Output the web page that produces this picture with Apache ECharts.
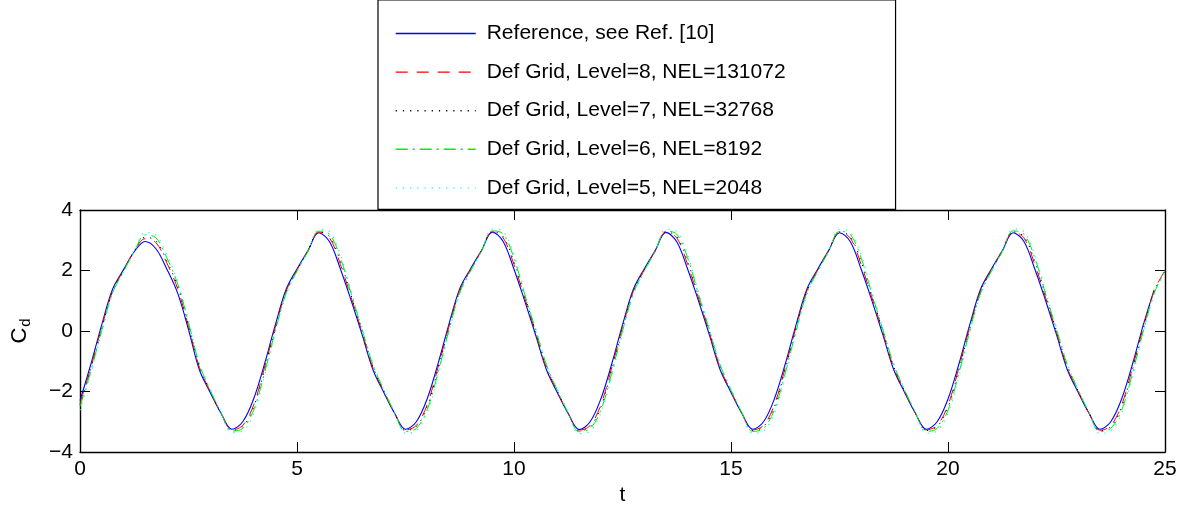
<!DOCTYPE html>
<html>
<head>
<meta charset="utf-8">
<script src="https://cdn.jsdelivr.net/npm/echarts@6/dist/echarts.min.js"></script>
<style>
  html, body { margin: 0; padding: 0; background: #fff; }
  #chart { width: 1190px; height: 509px; }
</style>
</head>
<body>
<div id="chart"></div>
<script>
// Drag coefficient history C_d(t), sampled every 0.25 time units from t = 0
const sampleStep = 0.25;

const seriesNames = [
  'Reference, see Ref. [10]',
  'Def Grid, Level=8, NEL=131072',
  'Def Grid, Level=7, NEL=32768',
  'Def Grid, Level=6, NEL=8192',
  'Def Grid, Level=5, NEL=2048'
];

const refCd = [
  -2.30, -1.10, 0.20, 1.38, 2.02, 2.62, 2.96, 2.72, 2.05, 1.25, 0.05, -1.28, -2.03, -2.72, -3.25,
  -3.00, -2.25, -1.10, 0.20, 1.38, 2.05, 2.65, 3.25, 2.95, 2.05, 1.00, -0.12, -1.28, -2.03, -2.72, -3.25,
  -3.00, -2.24, -1.08, 0.22, 1.40, 2.06, 2.66, 3.27, 2.96, 2.04, 0.98, -0.14, -1.29, -2.04, -2.73, -3.26,
  -3.01, -2.25, -1.10, 0.20, 1.38, 2.05, 2.65, 3.26, 2.95, 2.05, 1.00, -0.12, -1.28, -2.03, -2.72, -3.25,
  -3.00, -2.24, -1.09, 0.21, 1.39, 2.05, 2.66, 3.25, 2.95, 2.04, 0.99, -0.13, -1.28, -2.03, -2.72, -3.25,
  -3.00, -2.25, -1.10, 0.20, 1.38, 2.05, 2.65, 3.25, 2.96, 2.05, 1.00, -0.12, -1.28, -2.03, -2.72, -3.25,
  -3.00, -2.25, -1.10, 0.20, 1.36
];

const level8Cd = [
  -2.40, -1.20, 0.12, 1.32, 2.00, 2.64, 3.05, 2.92, 2.25, 1.40, 0.15, -1.20, -2.00, -2.72, -3.27,
  -3.12, -2.45, -1.22, 0.12, 1.32, 2.02, 2.64, 3.27, 3.08, 2.20, 1.10, -0.04, -1.22, -2.00, -2.72, -3.27,
  -3.12, -2.43, -1.20, 0.14, 1.34, 2.03, 2.65, 3.28, 3.08, 2.19, 1.08, -0.06, -1.23, -2.01, -2.73, -3.28,
  -3.13, -2.45, -1.22, 0.12, 1.32, 2.02, 2.64, 3.27, 3.08, 2.20, 1.10, -0.04, -1.22, -2.00, -2.72, -3.27,
  -3.12, -2.44, -1.21, 0.13, 1.33, 2.02, 2.65, 3.27, 3.07, 2.19, 1.09, -0.05, -1.22, -2.00, -2.72, -3.27,
  -3.12, -2.45, -1.22, 0.12, 1.32, 2.02, 2.64, 3.27, 3.08, 2.20, 1.10, -0.04, -1.22, -2.00, -2.72, -3.28,
  -3.13, -2.45, -1.22, 0.12, 1.32, 2.00
];

const level7Cd = [
  -2.45, -1.25, 0.08, 1.30, 1.98, 2.64, 3.10, 2.98, 2.32, 1.47, 0.20, -1.16, -1.98, -2.72, -3.29,
  -3.16, -2.52, -1.28, 0.08, 1.30, 2.00, 2.64, 3.28, 3.12, 2.30, 1.16, 0.00, -1.18, -1.98, -2.72, -3.29,
  -3.16, -2.50, -1.26, 0.10, 1.32, 2.01, 2.65, 3.29, 3.12, 2.29, 1.14, -0.02, -1.19, -1.99, -2.73, -3.30,
  -3.17, -2.52, -1.28, 0.08, 1.30, 2.00, 2.64, 3.28, 3.12, 2.30, 1.16, 0.00, -1.18, -1.98, -2.72, -3.29,
  -3.16, -2.51, -1.27, 0.09, 1.31, 2.00, 2.65, 3.28, 3.11, 2.29, 1.15, -0.01, -1.18, -1.98, -2.72, -3.29,
  -3.16, -2.52, -1.28, 0.08, 1.30, 2.00, 2.64, 3.28, 3.12, 2.30, 1.16, 0.00, -1.18, -1.98, -2.72, -3.30,
  -3.16, -2.52, -1.28, 0.08, 1.30, 1.99
];

const level6Cd = [
  -2.50, -1.32, 0.02, 1.26, 1.96, 2.62, 3.18, 3.08, 2.42, 1.56, 0.28, -1.10, -1.95, -2.70, -3.31,
  -3.22, -2.62, -1.40, 0.00, 1.25, 1.98, 2.62, 3.30, 3.20, 2.42, 1.22, 0.05, -1.12, -1.95, -2.70, -3.32,
  -3.22, -2.60, -1.38, 0.02, 1.27, 1.99, 2.63, 3.31, 3.21, 2.41, 1.20, 0.03, -1.13, -1.96, -2.71, -3.33,
  -3.23, -2.62, -1.40, 0.00, 1.25, 1.98, 2.62, 3.30, 3.20, 2.42, 1.22, 0.05, -1.12, -1.95, -2.70, -3.32,
  -3.22, -2.61, -1.39, 0.01, 1.26, 1.98, 2.63, 3.30, 3.19, 2.41, 1.21, 0.04, -1.12, -1.95, -2.70, -3.32,
  -3.22, -2.62, -1.40, 0.00, 1.25, 1.98, 2.62, 3.31, 3.20, 2.42, 1.22, 0.05, -1.12, -1.95, -2.70, -3.33,
  -3.22, -2.62, -1.40, 0.00, 1.25, 2.00
];

const level5Cd = [
  -2.62, -1.40, -0.05, 1.22, 1.95, 2.62, 3.26, 3.17, 2.52, 1.64, 0.35, -1.05, -1.92, -2.68, -3.36,
  -3.30, -2.72, -1.50, -0.06, 1.20, 1.96, 2.62, 3.36, 3.28, 2.52, 1.30, 0.10, -1.08, -1.93, -2.68, -3.38,
  -3.30, -2.70, -1.48, -0.04, 1.22, 1.97, 2.63, 3.37, 3.29, 2.51, 1.28, 0.08, -1.09, -1.94, -2.69, -3.39,
  -3.31, -2.72, -1.50, -0.06, 1.20, 1.96, 2.62, 3.36, 3.28, 2.52, 1.30, 0.10, -1.08, -1.93, -2.68, -3.38,
  -3.30, -2.71, -1.49, -0.05, 1.21, 1.96, 2.63, 3.36, 3.27, 2.51, 1.29, 0.09, -1.08, -1.93, -2.68, -3.38,
  -3.30, -2.72, -1.50, -0.06, 1.20, 1.96, 2.62, 3.37, 3.28, 2.52, 1.30, 0.10, -1.08, -1.93, -2.68, -3.39,
  -3.30, -2.72, -1.50, -0.06, 1.20, 1.96
];

const xTicks = { min: 0, max: 25, interval: 5 };
const yTicks = { min: -4, max: 4, interval: 2 };

const FONT = '"Liberation Sans", Arial, Helvetica, sans-serif';
const FONT_SIZE = 21;

function toPairs(values) {
  return values.map((v, i) => [i * sampleStep, v]);
}

function minusSign(v) {
  return String(v).replace('-', '\u2212');
}

const lineDefs = [
  { values: refCd,    color: '#0000ff', type: 'solid',        width: 1.1 },
  { values: level8Cd, color: '#ff0000', type: [12, 9],        width: 1 },
  { values: level7Cd, color: '#000000', type: [1.2, 6],       width: 1 },
  { values: level6Cd, color: '#00ee00', type: [12, 5, 2, 5],  width: 1 },
  { values: level5Cd, color: '#00ffff', type: [1.2, 6],       width: 1.2 }
];

const axisLineStyle = { color: '#000', width: 1.4 };
const tickStyle = { show: true, inside: true, length: 10, lineStyle: { color: '#000', width: 1 } };

const chart = echarts.init(document.getElementById('chart'), null, { renderer: 'canvas' });

chart.setOption({
  animation: false,
  backgroundColor: '#fff',
  textStyle: { fontFamily: FONT },
  grid: { left: 80, right: 25, top: 210, bottom: 57, containLabel: false },
  legend: {
    orient: 'vertical',
    left: 378,
    top: 0,
    padding: [23, 110, 11, 17],
    itemWidth: 80,
    itemHeight: 20,
    itemGap: 17.6,
    backgroundColor: '#fff',
    borderColor: '#000',
    borderWidth: 1.2,
    borderRadius: 0,
    z: 10,
    // line samples only, no marker in the middle
    itemStyle: { opacity: 0 },
    lineStyle: { width: 1.4 },
    textStyle: { fontFamily: FONT, fontSize: FONT_SIZE, color: '#000', padding: [0, 0, 0, 6] },
    data: seriesNames
  },
  xAxis: [
    {
      type: 'value', position: 'bottom',
      min: xTicks.min, max: xTicks.max, interval: xTicks.interval,
      name: 't', nameLocation: 'middle', nameGap: 33,
      nameTextStyle: { fontFamily: FONT, fontSize: FONT_SIZE, color: '#000' },
      axisLine: { show: true, onZero: false, lineStyle: axisLineStyle },
      axisTick: tickStyle,
      axisLabel: { fontFamily: FONT, fontSize: FONT_SIZE, color: '#000', margin: 7 },
      splitLine: { show: false }
    },
    {
      type: 'value', position: 'top',
      min: xTicks.min, max: xTicks.max, interval: xTicks.interval,
      axisLine: { show: true, onZero: false, lineStyle: axisLineStyle },
      axisTick: tickStyle,
      axisLabel: { show: false },
      splitLine: { show: false }
    }
  ],
  yAxis: [
    {
      type: 'value', position: 'left',
      min: yTicks.min, max: yTicks.max, interval: yTicks.interval,
      name: '{c|C}{d|d}', nameLocation: 'middle', nameGap: 47, nameRotate: 90,
      nameTextStyle: {
        fontFamily: FONT, color: '#000',
        rich: {
          c: { fontFamily: FONT, fontSize: 22, color: '#000' },
          d: { fontFamily: FONT, fontSize: 15, color: '#000', padding: [12, 0, 0, 1] }
        }
      },
      axisLine: { show: true, onZero: false, lineStyle: axisLineStyle },
      axisTick: tickStyle,
      axisLabel: { fontFamily: FONT, fontSize: FONT_SIZE, color: '#000', margin: 7, formatter: minusSign },
      splitLine: { show: false }
    },
    {
      type: 'value', position: 'right',
      min: yTicks.min, max: yTicks.max, interval: yTicks.interval,
      axisLine: { show: true, onZero: false, lineStyle: axisLineStyle },
      axisTick: tickStyle,
      axisLabel: { show: false },
      splitLine: { show: false }
    }
  ],
  series: lineDefs.map((d, k) => ({
    name: seriesNames[k],
    type: 'line',
    xAxisIndex: 0,
    yAxisIndex: 0,
    data: toPairs(d.values),
    symbol: 'none',
    showSymbol: false,
    smooth: 0.35,
    clip: true,
    itemStyle: { color: d.color },
    lineStyle: { color: d.color, width: d.width, type: d.type }
  }))
});
</script>
</body>
</html>
